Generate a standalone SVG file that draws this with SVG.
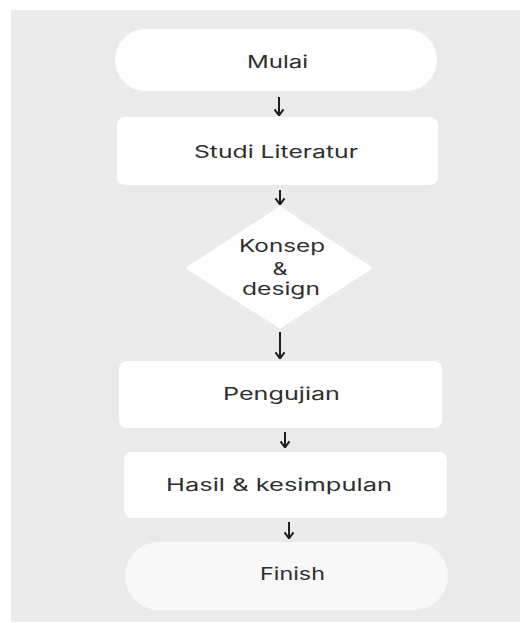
<svg xmlns="http://www.w3.org/2000/svg" width="520" height="623" viewBox="0 0 520 623">
<style>
.node{fill:#ffffff}
.term2{fill:#f8f8f8}
.lbl{font-family:Inter,"Noto Sans","Liberation Sans",sans-serif;font-size:17px;fill:#2e2e2e;text-anchor:middle}
.conn{stroke:#1e1e1e;stroke-width:2;fill:none;marker-end:url(#arr)}
</style>
<defs>
<marker id="arr" viewBox="0 0 12 12" refX="10.6" refY="6" markerWidth="12" markerHeight="12" markerUnits="userSpaceOnUse" orient="auto">
<polyline points="5,1.5 11,6 5,10.5" fill="none" stroke="#1e1e1e" stroke-width="2" stroke-linejoin="miter"/>
</marker>
</defs>
<rect x="0" y="0" width="520" height="623" fill="#ffffff"/>
<rect x="11" y="10" width="509" height="612" fill="#ebebeb"/>
<g id="n-mulai">
<rect class="node" x="115" y="29" width="322" height="62" rx="31"/>
<text class="lbl" x="277.5" y="68" textLength="61" lengthAdjust="spacingAndGlyphs">Mulai</text>
</g>
<g id="n-studi">
<rect class="node" x="117" y="117" width="321" height="68" rx="8"/>
<text class="lbl" x="276" y="158" textLength="164" lengthAdjust="spacingAndGlyphs">Studi Literatur</text>
</g>
<g id="n-konsep">
<polygon class="node" points="280,208 370,268 280,327 188,268" stroke="#ffffff" stroke-width="3" stroke-linejoin="round"/>
<text class="lbl" x="282" y="252" textLength="86" lengthAdjust="spacingAndGlyphs">Konsep</text>
<text class="lbl" x="280" y="275" style="font-size:17px" textLength="15" lengthAdjust="spacingAndGlyphs">&amp;</text>
<text class="lbl" x="281" y="295" textLength="78" lengthAdjust="spacingAndGlyphs">design</text>
</g>
<g id="n-pengujian">
<rect class="node" x="119" y="361" width="323" height="67" rx="8"/>
<text class="lbl" x="281.5" y="400" textLength="117" lengthAdjust="spacingAndGlyphs">Pengujian</text>
</g>
<g id="n-hasil">
<rect class="node" x="124" y="452" width="323" height="66" rx="8"/>
<text class="lbl" x="279" y="491" textLength="226" lengthAdjust="spacingAndGlyphs">Hasil &amp; kesimpulan</text>
</g>
<g id="n-finish">
<rect class="term2" x="125" y="542" width="323" height="68" rx="34"/>
<text class="lbl" x="292.5" y="580" textLength="65" lengthAdjust="spacingAndGlyphs">Finish</text>
</g>
<g id="connectors">
<line class="conn" x1="279" y1="97" x2="279" y2="115"/>
<line class="conn" x1="280" y1="190" x2="280" y2="204"/>
<line class="conn" x1="280" y1="332" x2="280" y2="358"/>
<line class="conn" x1="285" y1="432" x2="285" y2="447"/>
<line class="conn" x1="289" y1="522" x2="289" y2="538"/>
</g>
</svg>
